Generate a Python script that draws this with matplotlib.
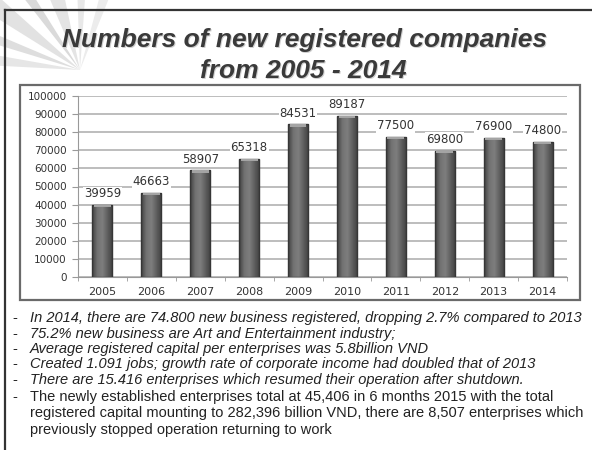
import matplotlib.pyplot as plt
import numpy as np
from matplotlib.patches import Rectangle, Polygon
from matplotlib.colors import LinearSegmentedColormap

years = ["2005", "2006", "2007", "2008", "2009", "2010", "2011", "2012", "2013", "2014"]
companies = [39959, 46663, 58907, 65318, 84531, 89187, 77500, 69800, 76900, 74800]

notes = [
    "In 2014, there are 74.800 new business registered, dropping 2.7% compared to 2013",
    "75.2% new business are Art and Entertainment industry;",
    "Average registered capital per enterprises was 5.8billion VND",
    "Created 1.091 jobs; growth rate of corporate income had doubled that of 2013",
    "There are 15.416 enterprises which resumed their operation after shutdown.",
]
last_note = [
    "The newly established enterprises total at 45,406 in 6 months 2015 with the total",
    "registered capital mounting to 282,396 billion VND, there are 8,507 enterprises which",
    "previously stopped operation returning to work",
]

W, H = 592, 450
fig = plt.figure(figsize=(W / 100, H / 100), dpi=100)
fig.patch.set_facecolor("white")


def fx(px):
    return px / W


def fy(py):
    return 1 - py / H


# faint starburst behind the title
cx, cy = 80, 70
for a0, a1, col in [(183, 190, "#e6e6e6"), (197, 203, "#dedede"), (212, 222, "#e2e2e2"),
                    (232, 238, "#dadada"), (247, 258, "#e4e4e4"), (268, 274, "#e8e8e8"),
                    (285, 292, "#ececec")]:
    r = 150
    pts = [(fx(cx), fy(cy))]
    for a in (a0, a1):
        t = np.radians(a)
        pts.append((fx(cx + r * np.cos(t)), fy(cy + r * np.sin(t))))
    fig.patches.append(Polygon(pts, closed=True, transform=fig.transFigure,
                               facecolor=col, edgecolor="none", zorder=0))

# slide frame
fig.add_artist(plt.Line2D([fx(5), fx(592)], [fy(10), fy(10)], color="#333333", lw=1.6))
fig.add_artist(plt.Line2D([fx(5), fx(5)], [fy(10), fy(450)], color="#333333", lw=1.6))

# title with a light shadow
for dx, dy, col in [(0.0015, -0.002, "#d0d0d0"), (0, 0, "#3a3a3a")]:
    fig.text(fx(305) + dx, fy(40) + dy, "Numbers of new registered companies",
             ha="center", va="center", fontsize=19, fontstyle="italic", fontweight="bold",
             family="Liberation Sans", color=col)
    fig.text(fx(303) + dx, fy(71) + dy, "from 2005 - 2014",
             ha="center", va="center", fontsize=19, fontstyle="italic", fontweight="bold",
             family="Liberation Sans", color=col)

# chart frame
fig.patches.append(Rectangle((fx(20), fy(300)), fx(560), 215 / H, transform=fig.transFigure,
                             facecolor="white", edgecolor="#6a6a6a", lw=1.6, zorder=1))

ax = fig.add_axes([fx(78), fy(277), fx(489), 181 / H])
ax.set_facecolor("none")
ax.set_zorder(2)

x = np.arange(len(years))
bw = 0.41
bars = ax.bar(x, companies, width=bw, color="none", edgecolor="#363636", lw=1.0, zorder=3)

shade = LinearSegmentedColormap.from_list("shade", ["#404040", "#727272", "#7e7e7e", "#5e5e5e", "#404040"])
grad = np.linspace(0, 1, 64).reshape(1, -1)
for rect, v in zip(bars, companies):
    x0 = rect.get_x()
    im = ax.imshow(grad, cmap=shade, aspect="auto", zorder=2.5,
                   extent=(x0, x0 + bw, 0, v), origin="lower")
    im.set_clip_path(rect)
    # lighter cap on top of each bar
    ax.add_patch(Rectangle((x0 + bw * 0.08, v - 1400), bw * 0.84, 1400,
                           facecolor="#a4a4a4", edgecolor="none", zorder=3.2))

for xi, v in zip(x, companies):
    ax.text(xi, v + 2400, str(v), ha="center", va="bottom", fontsize=8.5, color="#333333",
            family="DejaVu Sans",
            bbox=dict(facecolor="white", edgecolor="none", pad=0.6), zorder=4)

ax.set_xlim(-0.5, len(years) - 0.5)
ax.set_ylim(0, 100000)
ax.set_yticks(np.arange(0, 100001, 10000))
ax.yaxis.grid(True, color="#bdbdbd", lw=1.4)
ax.set_axisbelow(True)
ax.set_xticks(x)
ax.set_xticklabels(years)
ax.set_xticks(np.arange(-0.5, len(years), 1), minor=True)
ax.tick_params(axis="x", which="major", length=0, pad=7, labelsize=8, labelcolor="#333333")
ax.tick_params(axis="x", which="minor", length=3, color="#999999")
ax.tick_params(axis="y", length=4, color="#999999", pad=4, labelsize=7.5, labelcolor="#333333")
for side in ("top", "right"):
    ax.spines[side].set_visible(False)
for side in ("left", "bottom"):
    ax.spines[side].set_color("#999999")

# bullet notes
ys = [318, 334, 349, 364, 380]
for yy, s in zip(ys, notes):
    fig.text(fx(12), fy(yy), "-", ha="left", va="center", fontsize=10.5, color="#222222",
             family="Liberation Sans")
    fig.text(fx(30), fy(yy), s, ha="left", va="center", fontsize=10.5, color="#222222",
             family="Liberation Sans", fontstyle="italic")
fig.text(fx(12), fy(397), "-", ha="left", va="center", fontsize=10.5, color="#222222",
         family="Liberation Sans")
for yy, s in zip([397, 413, 430], last_note):
    fig.text(fx(30), fy(yy), s, ha="left", va="center", fontsize=10.5, color="#222222",
             family="Liberation Sans")

fig.savefig("out.png", dpi=100)
